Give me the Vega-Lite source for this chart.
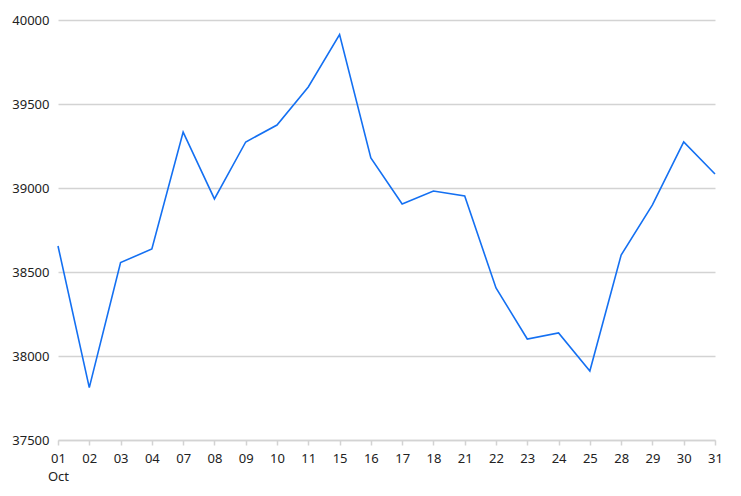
{
  "$schema": "https://vega.github.io/schema/vega-lite/v6.json",
  "width": 657,
  "height": 420,
  "autosize": "none",
  "padding": {"left": 58, "top": 20, "right": 26, "bottom": 56},
  "background": "white",
  "config": {
    "view": {"stroke": null},
    "font": "Noto Sans"
  },
  "data": {
    "values": [
      {"day": "01", "value": 38655},
      {"day": "02", "value": 37812},
      {"day": "03", "value": 38556},
      {"day": "04", "value": 38637},
      {"day": "07", "value": 39333},
      {"day": "08", "value": 38935},
      {"day": "09", "value": 39274},
      {"day": "10", "value": 39375},
      {"day": "11", "value": 39601},
      {"day": "15", "value": 39913},
      {"day": "16", "value": 39179},
      {"day": "17", "value": 38905},
      {"day": "18", "value": 38982},
      {"day": "21", "value": 38952},
      {"day": "22", "value": 38405},
      {"day": "23", "value": 38101},
      {"day": "24", "value": 38137},
      {"day": "25", "value": 37911},
      {"day": "28", "value": 38601},
      {"day": "29", "value": 38899},
      {"day": "30", "value": 39274},
      {"day": "31", "value": 39083}
    ]
  },
  "mark": {"type": "line", "color": "#1470f2", "strokeWidth": 1.6},
  "encoding": {
    "x": {
      "field": "day",
      "type": "ordinal",
      "sort": null,
      "scale": {"type": "point", "padding": 0},
      "axis": {
        "title": null,
        "labelAngle": 0,
        "labelFontSize": 13,
        "labelColor": "#222",
        "labelPadding": 7,
        "labelLineHeight": 18,
        "labelExpr": "datum.value == '01' ? ['01', 'Oct'] : datum.value",
        "domainColor": "#d3d3d3",
        "domainWidth": 1.5,
        "tickColor": "#d3d3d3",
        "tickWidth": 1.5,
        "tickSize": 5,
        "grid": false
      }
    },
    "y": {
      "field": "value",
      "type": "quantitative",
      "scale": {"domain": [37500, 40000], "zero": false, "nice": false},
      "axis": {
        "title": null,
        "values": [37500, 38000, 38500, 39000, 39500, 40000],
        "format": "d",
        "labelFontSize": 13,
        "labelColor": "#222",
        "labelPadding": 9,
        "domain": false,
        "ticks": false,
        "gridColor": "#d3d3d3",
        "gridWidth": 1.3
      }
    }
  }
}
